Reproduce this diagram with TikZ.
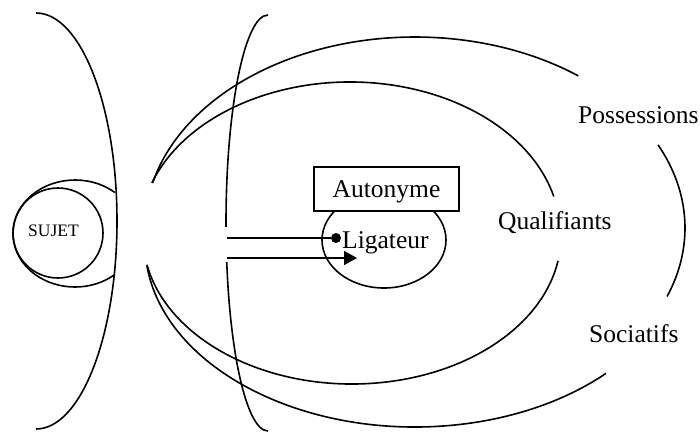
\documentclass[tikz,border=0pt]{standalone}
\usepackage{fontspec}
\setmainfont{Liberation Serif}
\usetikzlibrary{arrows.meta}
\begin{document}
\begin{tikzpicture}[x=1pt,y=1pt,
  curve/.style={line width=1.6pt, draw=black},
  lbl/.style={inner sep=0pt, anchor=base west, font=\fontsize{25.5}{30}\selectfont},
]
\useasboundingbox (0,0) rectangle (700,-434);
% left big arc
\draw[curve] (36,-13) arc[start angle=90, end angle=-90, x radius=81, y radius=208];
% SUJET circles
\draw[curve] (58,-233) circle[x radius=45, y radius=45];
\draw[curve] ([shift={(50:62 and 53.5)}]75,-233.5) arc[start angle=50, end angle=310, x radius=62, y radius=53.5];
% outer ellipse (Possessions / Sociatifs)
\draw[curve] ([shift={(166.4:270 and 191)}]415,-228) arc[start angle=166.4, end angle=52.8, x radius=270, y radius=191];
\draw[curve] ([shift={(25.8:270 and 191)}]415,-228) arc[start angle=25.8, end angle=-21, x radius=270, y radius=191];
\draw[curve] ([shift={(186.9:270 and 183)}]415,-244) arc[start angle=186.9, end angle=315, x radius=270, y radius=183];
% inner ellipse (Qualifiants)
\draw[curve] ([shift={(160.6:210 and 151)}]350,-233) arc[start angle=160.6, end angle=14, x radius=210, y radius=151];
\draw[curve] ([shift={(191.2:209 and 148)}]352,-236) arc[start angle=191.2, end angle=350.3, x radius=209, y radius=148];
% middle arc
\draw[curve] (268,-15) arc[start angle=90, end angle=270, x radius=42, y radius=208];
\fill[white] (222,-227) rectangle (231,-262);
% Ligateur ellipse
\draw[curve] (384,-240) ellipse[x radius=62, y radius=48];
% Autonyme box
\node[curve, fill=white, rectangle, minimum width=145pt, minimum height=44pt, inner sep=0pt,
      text depth=0pt, font=\fontsize{25.5}{30}\selectfont] (auto) at (386.5,-189) {Autonyme};
% labels
\node[lbl] (lig) at (342,-248) {Ligateur};
\node[lbl] (poss) at (578,-123) {Possessions};
\node[lbl] (qual) at (498,-229) {Qualifiants};
\node[lbl] (soc) at (589,-342) {Sociatifs};
\node[inner sep=0pt, anchor=base west, font=\fontsize{17.5}{20}\selectfont] (suj) at (28,-236.5) {SUJET};
% connectors
\node[circle, fill=black, inner sep=0pt, minimum size=10pt] (dot) at (336,-238) {};
\coordinate (a1) at (227,-238);
\coordinate (a2) at (227,-258);
\coordinate (a2e) at (357,-258);
\draw[curve] (a1) -- (dot);
\draw[curve, -{Triangle[length=13pt, width=14pt]}] (a2) -- (a2e);
\end{tikzpicture}
\end{document}
